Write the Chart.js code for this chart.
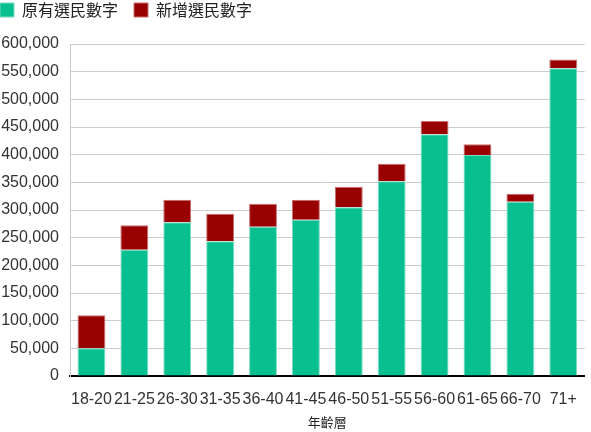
<!DOCTYPE html>
<html>
<head>
<meta charset="utf-8">
<script src="https://cdn.jsdelivr.net/npm/chart.js@4"></script>
<style>
  html, body { margin: 0; padding: 0; background: #fff; }
  #wrap { width: 591px; height: 432px; position: relative; }
</style>
</head>
<body>
<div id="wrap"><canvas id="voters"></canvas></div>
<script>
// age groups and voter counts
const ageGroups = ['18-20', '21-25', '26-30', '31-35', '36-40', '41-45', '46-50', '51-55', '56-60', '61-65', '66-70', '71+'];
const existingVoters = [50000, 228000, 278000, 243700, 269700, 282300, 305000, 352000, 436800, 399600, 314800, 556000];
const newVoters = [60000, 44500, 40500, 49500, 41500, 36000, 37000, 31500, 24200, 19200, 14400, 16200];
const seriesNames = ['原有選民數字', '新增選民數字'];
const axisTitle = '年齡層';

const legendPad = 16;

// pull the legend back into the top-left corner, padding is only wanted between items
const legendShift = {
    id: 'legendShift',
    afterLayout(chart) {
        chart.legend.left -= legendPad;
        chart.legend.top -= legendPad;
    }
};

const ctx = document.getElementById('voters').getContext('2d');
new Chart(ctx, {
    type: 'bar',
    data: {
        labels: ageGroups,
        datasets: [
            {
                label: seriesNames[0],
                data: existingVoters,
                backgroundColor: '#07bf8f',
                borderColor: 'rgba(120, 220, 195, 1)',
                borderWidth: 1
            },
            {
                label: seriesNames[1],
                data: newVoters,
                backgroundColor: '#990000',
                borderColor: 'rgba(200, 110, 110, 1)',
                borderWidth: 1
            }
        ]
    },
    options: {
        responsive: true,
        maintainAspectRatio: false,
        animation: false,
        devicePixelRatio: 1,
        barPercentage: 0.65,
        categoryPercentage: 1,
        layout: { padding: { top: 2, right: 4, left: 0, bottom: 0 } },
        plugins: {
            legend: {
                position: 'top',
                align: 'start',
                labels: {
                    boxWidth: 14,
                    boxHeight: 14,
                    padding: legendPad,
                    color: '#222',
                    font: { family: '"Noto Sans CJK TC", "Liberation Sans", sans-serif', size: 16 }
                }
            },
            tooltip: { enabled: false }
        },
        scales: {
            x: {
                stacked: true,
                grid: { display: false, drawTicks: false },
                border: { display: true, color: '#000', width: 2 },
                ticks: {
                    color: '#333',
                    padding: 14,
                    maxRotation: 0,
                    autoSkip: false,
                    font: { family: '"Liberation Sans", Arial, sans-serif', size: 16 }
                },
                title: {
                    display: true,
                    text: axisTitle,
                    color: '#222',
                    padding: { top: 0, bottom: 2 },
                    font: { family: '"Noto Sans CJK TC", sans-serif', size: 13 }
                },
                afterFit: scale => { scale.height = 56; }
            },
            y: {
                stacked: true,
                min: 0,
                max: 600000,
                grid: { color: '#cccccc', drawTicks: false },
                border: { display: true, color: '#cccccc' },
                ticks: {
                    stepSize: 50000,
                    color: '#333',
                    padding: 11,
                    font: { family: '"Liberation Sans", Arial, sans-serif', size: 16 },
                    callback: v => v.toLocaleString('en-US')
                },
                afterFit: scale => { scale.width = 70; }
            }
        }
    },
    plugins: [legendShift]
});
</script>
</body>
</html>
